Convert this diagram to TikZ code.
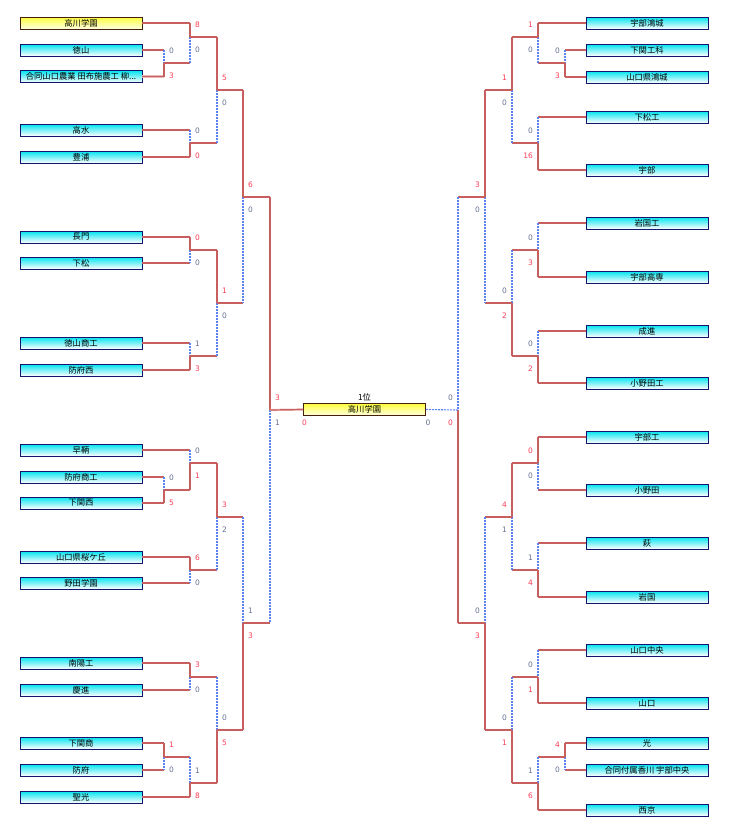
\documentclass[tikz,border=0pt]{standalone}
\usepackage{fontspec}
\usepackage{tikz}
\usetikzlibrary{calc}
\newfontfamily\jp{Noto Sans CJK JP}
\newfontfamily\num{DejaVu Sans}
\definecolor{boxtop}{RGB}{0,228,240}
\definecolor{boxline}{RGB}{20,20,110}
\definecolor{goldtop}{RGB}{255,255,60}
\definecolor{goldline}{RGB}{70,30,10}
\definecolor{armc}{RGB}{200,95,95}
\definecolor{armglow}{RGB}{235,185,185}
\definecolor{lostc}{RGB}{90,130,240}
\definecolor{winc}{RGB}{250,60,85}
\definecolor{losec}{RGB}{100,112,145}
\tikzset{
  team/.style={draw=boxline, line width=0.9pt, top color=boxtop, bottom color=white,
    minimum width=122pt, minimum height=12pt, inner sep=0pt, font=\jp\fontsize{8.3}{8.3}\selectfont},
  first/.style={draw=goldline, top color=goldtop, bottom color=goldtop!15},
  arm/.style={draw=armc, line width=1.2pt, preaction={draw=armglow, line width=2.2pt}},
  lost/.style={draw=lostc, line width=1.1pt, dash pattern=on 2pt off 1pt},
  score/.style={font=\num\fontsize{7.5}{7.5}\selectfont, inner sep=0pt},
  lsc/.style={anchor=west, xshift=5pt},
  rsc/.style={anchor=east, xshift=-5pt}
}
% one bout: upper, lower, junction, winner (t/b), scores, label side
\newcommand\bout[7]{%
  \draw[arm] (#1) -- (#1 -| #3);
  \draw[arm] (#2) -- (#2 -| #3);
  \if t#4
    \draw[arm] (#1 -| #3) -- (#3);
    \draw[lost] (#3) -- (#2 -| #3);
    \def\uc{winc}\def\dc{losec}%
  \else
    \draw[lost] (#1 -| #3) -- (#3);
    \draw[arm] (#3) -- (#2 -| #3);
    \def\uc{losec}\def\dc{winc}%
  \fi
  \node[score, #7, text=\uc] (#3u) at ([yshift=12.5pt]#3) {#5};
  \node[score, #7, text=\dc] (#3d) at ([yshift=-13pt]#3) {#6};
}
\begin{document}
\begin{tikzpicture}[x=1pt, y=-1pt]
\useasboundingbox (0,0) rectangle (732,831);

%%%%% LEFT TEAMS %%%%%
\node[team, first] (L1) at (81,23) {高川学園};
\node[team] (L2) at (81,50) {徳山};
\node[team] (L3) at (81,76.5) {合同山口農業 田布施農工 柳...};
\node[team] (L4) at (81,130) {高水};
\node[team] (L5) at (81,157) {豊浦};
\node[team] (L6) at (81,237) {長門};
\node[team] (L7) at (81,263) {下松};
\node[team] (L8) at (81,343) {徳山商工};
\node[team] (L9) at (81,370) {防府西};
\node[team] (L10) at (81,450) {早鞆};
\node[team] (L11) at (81,477) {防府商工};
\node[team] (L12) at (81,503) {下関西};
\node[team] (L13) at (81,557) {山口県桜ケ丘};
\node[team] (L14) at (81,583) {野田学園};
\node[team] (L15) at (81,663) {南陽工};
\node[team] (L16) at (81,690) {慶進};
\node[team] (L17) at (81,743) {下関商};
\node[team] (L18) at (81,770) {防府};
\node[team] (L19) at (81,797) {聖光};

%%%%% RIGHT TEAMS %%%%%
\node[team] (R1) at (647,23) {宇部鴻城};
\node[team] (R2) at (647,50) {下関工科};
\node[team] (R3) at (647,77) {山口県鴻城};
\node[team] (R4) at (647,117) {下松工};
\node[team] (R5) at (647,170) {宇部};
\node[team] (R6) at (647,223) {岩国工};
\node[team] (R7) at (647,277) {宇部高専};
\node[team] (R8) at (647,331) {成進};
\node[team] (R9) at (647,383) {小野田工};
\node[team] (R10) at (647,437) {宇部工};
\node[team] (R11) at (647,490) {小野田};
\node[team] (R12) at (647,543) {萩};
\node[team] (R13) at (647,597) {岩国};
\node[team] (R14) at (647,650) {山口中央};
\node[team] (R15) at (647,703) {山口};
\node[team] (R16) at (647,743) {光};
\node[team] (R17) at (647,770) {合同付属香川 宇部中央};
\node[team] (R18) at (647,810) {西京};

%%%%% JUNCTIONS %%%%%
\coordinate (jl1) at (164,63);   \coordinate (jl2) at (190,37);
\coordinate (jl3) at (190,143);  \coordinate (jl4) at (217,90);
\coordinate (jl5) at (190,250);  \coordinate (jl6) at (190,356);
\coordinate (jl7) at (217,303);  \coordinate (jl8) at (243,197);
\coordinate (jl9) at (164,490);  \coordinate (jl10) at (190,463);
\coordinate (jl11) at (190,570); \coordinate (jl12) at (217,517);
\coordinate (jl13) at (190,677); \coordinate (jl14) at (164,757);
\coordinate (jl15) at (190,783); \coordinate (jl16) at (217,730);
\coordinate (jl17) at (243,623); \coordinate (jl18) at (270,410);

\coordinate (jr1) at (565,63);   \coordinate (jr2) at (538,37);
\coordinate (jr3) at (538,143);  \coordinate (jr4) at (512,90);
\coordinate (jr5) at (538,250);  \coordinate (jr6) at (538,356);
\coordinate (jr7) at (512,303);  \coordinate (jr8) at (485,197);
\coordinate (jr9) at (538,463);  \coordinate (jr10) at (538,570);
\coordinate (jr11) at (512,517); \coordinate (jr12) at (538,677);
\coordinate (jr13) at (565,757); \coordinate (jr14) at (538,783);
\coordinate (jr15) at (512,730); \coordinate (jr16) at (485,623);
\coordinate (jr17) at (458,410);

%%%%% LEFT BOUTS %%%%%
\bout{L2.east}{L3.east}{jl1}{b}{0}{3}{lsc}
\bout{L1.east}{jl1}{jl2}{t}{8}{0}{lsc}
\bout{L4.east}{L5.east}{jl3}{b}{0}{0}{lsc}
\bout{jl2}{jl3}{jl4}{t}{5}{0}{lsc}
\bout{L6.east}{L7.east}{jl5}{t}{0}{0}{lsc}
\bout{L8.east}{L9.east}{jl6}{b}{1}{3}{lsc}
\bout{jl5}{jl6}{jl7}{t}{1}{0}{lsc}
\bout{jl4}{jl7}{jl8}{t}{6}{0}{lsc}
\bout{L11.east}{L12.east}{jl9}{b}{0}{5}{lsc}
\bout{L10.east}{jl9}{jl10}{b}{0}{1}{lsc}
\bout{L13.east}{L14.east}{jl11}{t}{6}{0}{lsc}
\bout{jl10}{jl11}{jl12}{t}{3}{2}{lsc}
\bout{L15.east}{L16.east}{jl13}{t}{3}{0}{lsc}
\bout{L17.east}{L18.east}{jl14}{t}{1}{0}{lsc}
\bout{jl14}{L19.east}{jl15}{b}{1}{8}{lsc}
\bout{jl13}{jl15}{jl16}{b}{0}{5}{lsc}
\bout{jl12}{jl16}{jl17}{b}{1}{3}{lsc}
\bout{jl8}{jl17}{jl18}{t}{3}{1}{lsc}

%%%%% RIGHT BOUTS %%%%%
\bout{R2.west}{R3.west}{jr1}{b}{0}{3}{rsc}
\bout{R1.west}{jr1}{jr2}{t}{1}{0}{rsc}
\bout{R4.west}{R5.west}{jr3}{b}{0}{16}{rsc}
\bout{jr2}{jr3}{jr4}{t}{1}{0}{rsc}
\bout{R6.west}{R7.west}{jr5}{b}{0}{3}{rsc}
\bout{R8.west}{R9.west}{jr6}{b}{0}{2}{rsc}
\bout{jr5}{jr6}{jr7}{b}{0}{2}{rsc}
\bout{jr4}{jr7}{jr8}{t}{3}{0}{rsc}
\bout{R10.west}{R11.west}{jr9}{t}{0}{0}{rsc}
\bout{R12.west}{R13.west}{jr10}{b}{1}{4}{rsc}
\bout{jr9}{jr10}{jr11}{t}{4}{1}{rsc}
\bout{R14.west}{R15.west}{jr12}{b}{0}{1}{rsc}
\bout{R16.west}{R17.west}{jr13}{t}{4}{0}{rsc}
\bout{jr13}{R18.west}{jr14}{b}{1}{6}{rsc}
\bout{jr12}{jr14}{jr15}{b}{0}{1}{rsc}
\bout{jr11}{jr15}{jr16}{b}{0}{3}{rsc}
\bout{jr8}{jr16}{jr17}{b}{0}{0}{rsc}

%%%%% FINAL %%%%%
\node[team, first] (F) at (364.5,409.5) {高川学園};
\node[font=\jp\fontsize{8.3}{8.3}\selectfont, inner sep=0pt] (rank) at (364.5,397.5) {1位};
\draw[arm] (jl18) -- (F.west);
\draw[lost] (F.east) -- (jr17);
\node[score, text=winc, anchor=west] (fw) at (302,423) {0};
\node[score, text=losec, anchor=west] (fl) at (425.5,423) {0};
\end{tikzpicture}
\end{document}
